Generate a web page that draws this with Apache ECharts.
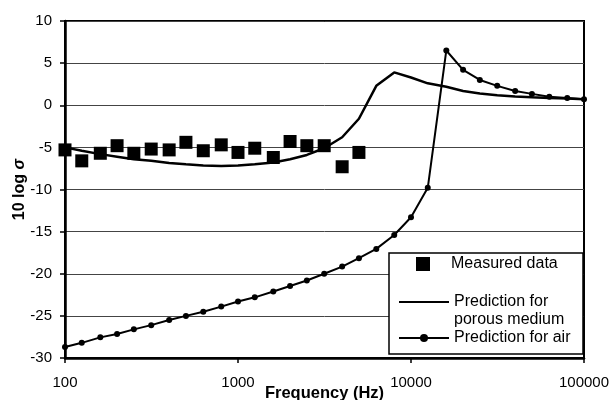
<!DOCTYPE html>
<html>
<head>
    <meta http-equiv="Content-Type" content="text/html; charset=utf-8"/>
    <script src="https://cdn.jsdelivr.net/npm/echarts@6/dist/echarts.min.js"></script>
    <style>
        body { margin: 0; background: #fff; }
    </style>
</head>
<body>
<div id="chart" style="width:613px;height:400px;"></div>

<script type="text/javascript">
    // 1/3 octave band centre frequencies (Hz)
    var freqs = [100, 125, 160, 200, 250, 315, 400, 500, 630, 800,
        1000, 1250, 1600, 2000, 2500, 3150, 4000, 5000, 6300, 8000,
        10000, 12500, 16000, 20000, 25000, 31500, 40000, 50000, 63000, 80000, 100000];

    // measured data, 100 Hz .. 5000 Hz
    var measuredFreqs = [100, 125, 160, 200, 250, 315, 400, 500, 630, 800,
        1000, 1250, 1600, 2000, 2500, 3150, 4000, 5000];
    var measured = [-5.3, -6.6, -5.7, -4.8, -5.7, -5.2, -5.3, -4.4, -5.4, -4.7,
        -5.6, -5.1, -6.2, -4.3, -4.8, -4.8, -7.3, -5.6];

    // prediction for porous medium
    var porous = [-5.0, -5.4, -5.8, -6.1, -6.4, -6.6, -6.85, -7.0, -7.15, -7.2,
        -7.15, -7.0, -6.8, -6.4, -5.9, -5.1, -3.8, -1.6, 2.3, 3.9,
        3.3, 2.6, 2.2, 1.7, 1.4, 1.2, 1.05, 0.95, 0.85, 0.8, 0.7];

    // prediction for air
    var air = [-28.7, -28.2, -27.55, -27.15, -26.6, -26.1, -25.5, -25.0, -24.5, -23.9,
        -23.3, -22.8, -22.1, -21.45, -20.8, -20.0, -19.15, -18.15, -17.05, -15.4,
        -13.3, -9.8, 6.5, 4.2, 3.0, 2.3, 1.7, 1.35, 1.0, 0.85, 0.7];

    var xTickLabels = ['100', '1000', '10000', '100000'];

    function pairs(xs, ys) {
        var out = [];
        for (var i = 0; i < ys.length; i++) {
            out.push([xs[i], ys[i]]);
        }
        return out;
    }

    var font = 'Liberation Sans, Arial, sans-serif';
    var myChart = echarts.init(document.getElementById('chart'));

    var option = {
        backgroundColor: '#fff',
        animation: false,
        textStyle: {fontFamily: font, color: '#000'},
        grid: {
            left: 65, right: 29, top: 21, bottom: 42,
            outerBoundsMode: 'none',
            containLabel: false,
            show: true, borderColor: '#000', borderWidth: 2
        },
        xAxis: {
            type: 'log',
            logBase: 10,
            min: 100,
            max: 100000,
            name: 'Frequency (Hz)',
            nameLocation: 'middle',
            nameGap: 27,
            nameMoveOverlap: false,
            nameTextStyle: {fontSize: 16.5, fontWeight: 'bold', color: '#000'},
            axisLine: {onZero: false, lineStyle: {color: '#000', width: 2.5}},
            axisTick: {show: true, length: 5, lineStyle: {color: '#000', width: 1.5}},
            minorTick: {show: false},
            splitLine: {show: false},
            axisLabel: {
                fontSize: 15, color: '#000', margin: 17,
                formatter: function (v) {
                    var k = Math.round(Math.log10(v)) - 2;
                    return xTickLabels[k] || '';
                }
            }
        },
        yAxis: {
            type: 'value',
            min: -30,
            max: 10,
            interval: 5,
            name: '10 log {i|σ}',
            nameLocation: 'middle',
            nameGap: 37,
            nameMoveOverlap: false,
            nameTextStyle: {
                fontSize: 16, fontWeight: 'bold', color: '#000',
                rich: {i: {fontSize: 16, fontWeight: 'bold', fontStyle: 'italic', color: '#000'}}
            },
            axisLine: {show: true, lineStyle: {color: '#000', width: 2.5}},
            axisTick: {show: true, length: 5, lineStyle: {color: '#000', width: 1.5}},
            splitLine: {show: true, lineStyle: {color: '#444', width: 1}},
            axisLabel: {fontSize: 15, color: '#000', margin: 13}
        },
        graphic: [{
            type: 'rect',
            z: 3,
            shape: {x: 389, y: 253, width: 194, height: 101},
            style: {fill: '#fff', stroke: '#000', lineWidth: 1.5}
        }],
        legend: [{
            z: 6, left: 416, top: 256, padding: 0,
            itemWidth: 14, itemHeight: 14,
            textStyle: {fontSize: 16, color: '#000', fontFamily: font, padding: [0, 0, 0, 16]},
            data: [{name: 'Measured data', icon: 'rect'}]
        }, {
            z: 6, left: 398, top: 275, padding: 0,
            itemWidth: 50, itemHeight: 14,
            formatter: function () { return ' \nPrediction for\nporous medium'; },
            textStyle: {fontSize: 16, lineHeight: 18, color: '#000', fontFamily: font},
            data: [{name: 'Prediction for porous medium', itemStyle: {opacity: 0}}]
        }, {
            z: 6, left: 398, top: 330, padding: 0,
            itemWidth: 50, itemHeight: 10,
            textStyle: {fontSize: 16, color: '#000', fontFamily: font},
            data: ['Prediction for air']
        }],
        series: [{
            name: 'Measured data',
            type: 'scatter',
            symbol: 'rect',
            symbolSize: 13,
            itemStyle: {color: '#000', opacity: 1},
            z: 4,
            data: pairs(measuredFreqs, measured)
        }, {
            name: 'Prediction for porous medium',
            type: 'line',
            showSymbol: false,
            symbol: 'none',
            lineStyle: {color: '#000', width: 2.5},
            itemStyle: {color: '#000'},
            data: pairs(freqs, porous)
        }, {
            name: 'Prediction for air',
            type: 'line',
            symbol: 'circle',
            symbolSize: 6,
            lineStyle: {color: '#000', width: 2},
            itemStyle: {color: '#000'},
            data: pairs(freqs, air)
        }]
    };
    myChart.setOption(option);
</script>
</body>
</html>
